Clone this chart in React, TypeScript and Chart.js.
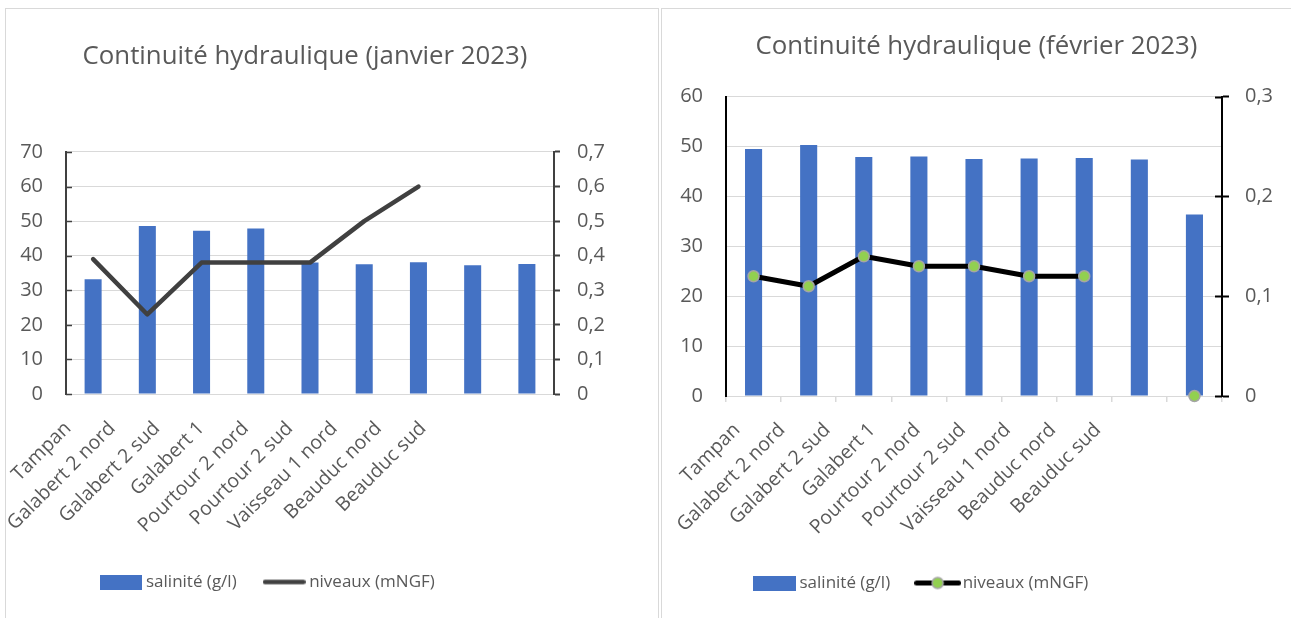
import React, { useEffect, useRef } from "react";
import { Chart, registerables } from "chart.js";

Chart.register(...registerables);

// ---------- data ----------
const categories = [
  "Tampan",
  "Galabert 2 nord",
  "Galabert 2 sud",
  "Galabert 1",
  "Pourtour 2 nord",
  "Pourtour 2 sud",
  "Vaisseau 1 nord",
  "Beauduc nord",
  "Beauduc sud",
];
const janSalinity = [33.2, 48.6, 47.2, 47.9, 38.0, 37.5, 38.1, 37.2, 37.6];
const janLevels = [0.39, 0.23, 0.38, 0.38, 0.38, 0.5, 0.6, null, null];
const febSalinity = [49.5, 50.3, 47.9, 48.0, 47.5, 47.6, 47.7, 47.4, 36.4];
const febLevels = [0.12, 0.11, 0.14, 0.13, 0.13, 0.12, 0.12, null, 0];
const labelSlots = [...categories, "", "", ""];
const janTitle = "Continuité hydraulique (janvier 2023)";
const febTitle = "Continuité hydraulique (février 2023)";
const seriesNames = ["salinité (g/l)", "niveaux (mNGF)"];

// ---------- styling ----------
const FONT = "'Open Sans', 'Noto Sans', sans-serif";
const TEXT = "#595959";
const GRID = "#d9d9d9";
const BLUE = "#4472c4";
const GREEN = "#92d050";

Chart.defaults.font.family = FONT;
Chart.defaults.color = TEXT;

function boxIcon(color: string, w: number, h: number) {
  const c = document.createElement("canvas");
  c.width = w;
  c.height = h;
  const ctx = c.getContext("2d")!;
  ctx.fillStyle = color;
  ctx.fillRect(0, 0, w, h);
  return c;
}

function lineIcon(color: string, w: number, h: number, lw: number, marker: boolean) {
  const c = document.createElement("canvas");
  c.width = w;
  c.height = h;
  const ctx = c.getContext("2d")!;
  ctx.strokeStyle = color;
  ctx.lineWidth = lw;
  ctx.lineCap = "round";
  ctx.beginPath();
  ctx.moveTo(lw / 2, h / 2);
  ctx.lineTo(w - lw / 2, h / 2);
  ctx.stroke();
  if (marker) {
    ctx.beginPath();
    ctx.arc(w / 2, h / 2, 5.5, 0, Math.PI * 2);
    ctx.fillStyle = GREEN;
    ctx.fill();
    ctx.lineWidth = 1.5;
    ctx.strokeStyle = "#a5a5a5";
    ctx.stroke();
  }
  return c;
}

// shifts the title / legend boxes horizontally (Excel placed them off-centre)
const shiftPlugin = {
  id: "boxShift",
  afterLayout(chart: any, _args: any, opts: any) {
    const t = chart.titleBlock;
    if (t && opts.titleDx) {
      t.left += opts.titleDx;
      t.right += opts.titleDx;
    }
    const l = chart.legend;
    if (l && opts.legendLeft != null) {
      const w = l.right - l.left;
      l.left = opts.legendLeft;
      l.right = l.left + w;
    }
  },
};

// draws "inside" tick marks of a value axis, at the axis' own tick positions
const innerTicksPlugin = {
  id: "innerTicks",
  afterDraw(chart: any, _args: any, opts: any) {
    if (!opts || !opts.scaleId) return;
    const scale = chart.scales[opts.scaleId];
    if (!scale) return;
    const ctx = chart.ctx;
    const area = chart.chartArea;
    ctx.save();
    ctx.strokeStyle = opts.color;
    ctx.lineWidth = opts.width;
    ctx.beginPath();
    for (const t of scale.ticks) {
      const y = Math.round(scale.getPixelForValue(t.value)) + 0.5;
      if (opts.side === "left") {
        ctx.moveTo(area.left, y);
        ctx.lineTo(area.left + opts.length, y);
      } else {
        ctx.moveTo(area.right - opts.length, y);
        ctx.lineTo(area.right, y);
      }
    }
    ctx.stroke();
    ctx.restore();
  },
};

const fmtComma = (v: any) => {
  const n = Number(v);
  if (Math.abs(n) < 1e-9) return "0";
  return n.toFixed(1).replace(".", ",");
};

interface P {
  title: string;
  bars: number[];
  line: (number | null)[];
  yMax: number;
  y1Max: number;
  axisColor: string;
  lineColor: string;
  lineWidth: number;
  marker: boolean;
  barPct: number;
  titlePadTop: number;
  titlePadBottom: number;
  titleDx: number;
  legendLeft: number;
  padBottom: number;
  yWidth: number;
  y1Width: number;
  y1TickLen: number;
  y1Pad: number;
  xHeight: number;
  xTicks: boolean;
  xlHeight: number;
  xlPad: number;
  xlOffset: number;
  inner: any;
  icons: HTMLCanvasElement[];
}

const TITLE_SIZE = 25.8;
const TICK_SIZE = 20;
const CAT_SIZE = 19.5;
const LEGEND_SIZE = 17;

function buildConfig(p: P): any {
  return {
    type: "bar",
    data: {
      labels: categories,
      datasets: [
        {
          type: "bar",
          label: seriesNames[0],
          data: p.bars,
          backgroundColor: BLUE,
          borderWidth: 0,
          categoryPercentage: 1,
          barPercentage: p.barPct,
          xAxisID: "x",
          yAxisID: "y",
          order: 2,
        },
        {
          type: "line",
          label: seriesNames[1],
          data: p.line,
          borderColor: p.lineColor,
          backgroundColor: p.marker ? GREEN : p.lineColor,
          borderWidth: p.lineWidth,
          borderCapStyle: "round",
          borderJoinStyle: "round",
          pointRadius: p.marker ? 5.5 : 0,
          pointHoverRadius: p.marker ? 5.5 : 0,
          pointBackgroundColor: GREEN,
          pointBorderColor: "#a5a5a5",
          pointBorderWidth: 1.5,
          spanGaps: false,
          clip: false,
          tension: 0,
          xAxisID: "x",
          yAxisID: "y1",
          order: 1,
        },
      ],
    },
    plugins: [shiftPlugin, innerTicksPlugin],
    options: {
      responsive: false,
      animation: false,
      devicePixelRatio: 1,
      layout: { padding: { left: 0, right: 0, top: 0, bottom: p.padBottom } },
      plugins: {
        boxShift: { titleDx: p.titleDx, legendLeft: p.legendLeft },
        innerTicks: p.inner,
        tooltip: { enabled: false },
        title: {
          display: true,
          text: p.title,
          color: TEXT,
          font: { family: FONT, size: TITLE_SIZE, weight: "normal", lineHeight: 1.2 },
          padding: { top: p.titlePadTop, bottom: p.titlePadBottom },
        },
        legend: {
          display: true,
          position: "bottom",
          align: "start",
          labels: {
            usePointStyle: true,
            pointStyleWidth: 33,
            padding: 31,
            color: TEXT,
            font: { family: FONT, size: LEGEND_SIZE },
            sort: (a: any, b: any) => a.datasetIndex - b.datasetIndex,
            generateLabels: (chart: any) => {
              const items = (Chart.defaults.plugins.legend.labels as any).generateLabels(chart);
              items.forEach((it: any) => {
                it.pointStyle = p.icons[it.datasetIndex];
              });
              return items;
            },
          },
        },
      },
      scales: {
        x: {
          type: "category",
          position: "bottom",
          offset: true,
          grid: {
            display: p.xTicks,
            offset: true,
            drawOnChartArea: false,
            drawTicks: p.xTicks,
            tickLength: 6,
            color: GRID,
            lineWidth: 1.5,
          },
          border: { display: false },
          ticks: { display: false },
          afterFit: (s: any) => {
            s.height = p.xHeight;
            s.paddingLeft = 0;
            s.paddingRight = 0;
          },
        },
        xl: {
          type: "category",
          position: "bottom",
          labels: labelSlots,
          offset: false,
          grid: { display: false, drawTicks: false },
          border: { display: false },
          ticks: {
            autoSkip: false,
            maxRotation: 45,
            minRotation: 45,
            padding: p.xlPad,
            labelOffset: p.xlOffset,
            color: TEXT,
            font: { family: FONT, size: CAT_SIZE },
          },
          afterFit: (s: any) => {
            s.height = p.xlHeight;
            s.paddingLeft = 0;
            s.paddingRight = 0;
          },
        },
        y: {
          type: "linear",
          position: "left",
          min: 0,
          max: p.yMax,
          grid: { color: GRID, lineWidth: 1, drawTicks: false },
          border: { display: true, color: p.axisColor, width: 2 },
          ticks: {
            stepSize: 10,
            padding: 23,
            color: TEXT,
            font: { family: FONT, size: TICK_SIZE },
          },
          afterFit: (s: any) => {
            s.width = p.yWidth;
          },
        },
        y1: {
          type: "linear",
          position: "right",
          min: 0,
          max: p.y1Max,
          grid: {
            drawOnChartArea: false,
            drawTicks: true,
            tickLength: p.y1TickLen,
            tickColor: p.axisColor,
            tickWidth: 2,
            color: p.axisColor,
          },
          border: { display: true, color: p.axisColor, width: 2 },
          ticks: {
            stepSize: 0.1,
            padding: p.y1Pad,
            color: TEXT,
            font: { family: FONT, size: TICK_SIZE },
            callback: fmtComma,
          },
          afterFit: (s: any) => {
            s.width = p.y1Width;
          },
        },
      },
    },
  };
}

export default function App() {
  const leftRef = useRef<HTMLCanvasElement>(null);
  const rightRef = useRef<HTMLCanvasElement>(null);

  useEffect(() => {
    const jan = buildConfig({
      title: janTitle,
      bars: janSalinity,
      line: janLevels,
      yMax: 70,
      y1Max: 0.7,
      axisColor: "#404040",
      lineColor: "#404040",
      lineWidth: 4.5,
      marker: false,
      barPct: 0.314,
      titlePadTop: 32.5,
      titlePadBottom: 79.5,
      titleDx: -26.5,
      legendLeft: 67.5,
      padBottom: 17.5,
      yWidth: 60,
      y1Width: 103,
      y1TickLen: 6,
      y1Pad: 17,
      xHeight: 0,
      xTicks: false,
      xlHeight: 148.5,
      xlPad: 23,
      xlOffset: 2,
      inner: { scaleId: "y", side: "left", length: 6, color: "#404040", width: 1.5 },
      icons: [boxIcon(BLUE, 42, 15), lineIcon("#404040", 43, 15, 4.5, false)],
    });
    const feb = buildConfig({
      title: febTitle,
      bars: febSalinity,
      line: febLevels,
      yMax: 60,
      y1Max: 0.3,
      axisColor: "#000000",
      lineColor: "#000000",
      lineWidth: 5,
      marker: true,
      barPct: 0.31,
      titlePadTop: 22.5,
      titlePadBottom: 34.2,
      titleDx: 0,
      legendLeft: 65,
      padBottom: 16.5,
      yWidth: 64,
      y1Width: 69,
      y1TickLen: 7,
      y1Pad: 16,
      xHeight: 6,
      xTicks: true,
      xlHeight: 141.5,
      xlPad: 16.7,
      xlOffset: 11,
      inner: { scaleId: "y1", side: "right", length: 7, color: "#000000", width: 2 },
      icons: [boxIcon(BLUE, 43, 15), lineIcon("#000000", 47, 15, 5, true)],
    });
    const c1 = new Chart(leftRef.current!, jan);
    const c2 = new Chart(rightRef.current!, feb);
    return () => {
      c1.destroy();
      c2.destroy();
    };
  }, []);

  return (
    <div
      style={{
        position: "fixed",
        left: 0,
        top: 0,
        width: 1291,
        height: 618,
        background: "#ffffff",
        overflow: "hidden",
      }}
    >
      <div
        style={{
          position: "absolute",
          left: 5,
          top: 8,
          width: 652,
          height: 640,
          border: "1px solid #d9d9d9",
        }}
      />
      <div
        style={{
          position: "absolute",
          left: 661,
          top: 8,
          width: 700,
          height: 640,
          border: "1px solid #d9d9d9",
        }}
      />
      <canvas
        ref={leftRef}
        width={651}
        height={609}
        style={{ position: "absolute", left: 6, top: 9, width: 651, height: 609 }}
      />
      <canvas
        ref={rightRef}
        width={629}
        height={609}
        style={{ position: "absolute", left: 662, top: 9, width: 629, height: 609 }}
      />
    </div>
  );
}
